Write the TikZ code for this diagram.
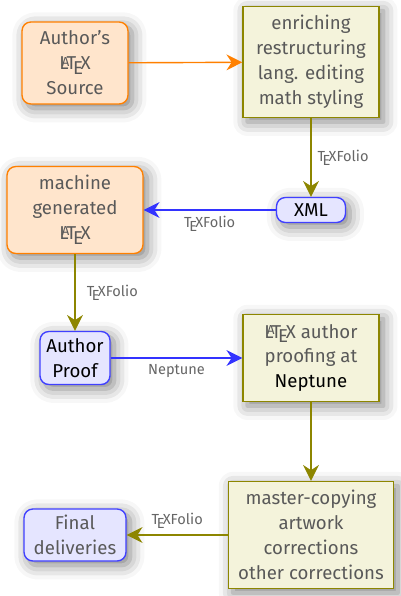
\documentclass[tikz,border=0pt]{standalone}
\usepackage{fontspec}
\setmainfont{Fira Sans}
\usetikzlibrary{positioning}
\usetikzlibrary{arrows.meta}
\usetikzlibrary{shadows.blur}
\newcommand{\strongtxt}[1]{\textcolor{black}{#1}}
\tikzset{
    myshadow/.style = {blur shadow={shadow xshift=2.5pt, shadow yshift=-2.5pt, shadow blur radius=8pt, shadow opacity=50}},
    boxo/.style = {rounded corners=5pt, thick, draw=orange, fill=orange!20, align=center, text=black!65, myshadow, font=\fontsize{10.6}{14.2}\selectfont},
    boxb/.style = {rounded corners=5pt, thick, draw=blue!75, fill=blue!10, align=center, text=black!65, myshadow, font=\fontsize{10.6}{14.2}\selectfont},
    boxg/.style = {thick, draw=olive, fill=olive!10, align=center, text=black!65, myshadow, font=\fontsize{10.6}{14.2}\selectfont},
    edgeo/.style = {-{Stealth[length=9pt,width=9pt]},thick,orange},
    edgeb/.style = {-{Stealth[length=9pt,width=9pt]},thick,blue!80},
    edgeg/.style = {-{Stealth[length=9pt,width=9pt]},thick,olive},
    lbl/.style = {text=black!60, font=\fontsize{8.3}{10}\selectfont},
}
\begin{document}
\begin{tikzpicture}[x=0.02cm,y=-0.02cm]
\path[use as bounding box] (0,0) rectangle (401,596);
%
\node[boxo, minimum width=2.12cm, minimum height=1.64cm] at (75,63) (src) {Author's\\\LaTeX\\Source};
\node[boxg, minimum width=2.72cm, minimum height=2.22cm] at (311,62) (enr) {enriching\\restructuring\\lang. editing\\math styling};
\node[boxb, minimum width=1.38cm, minimum height=0.5cm, inner sep=1pt] at (311,210) (xml) {\strongtxt{XML}};
\node[boxo, minimum width=2.72cm, minimum height=1.74cm] at (75,210) (mach) {machine\\generated\\\LaTeX};
\node[boxb, minimum width=1.4cm, minimum height=1.06cm, inner sep=2pt] at (75,358) (proof) {\strongtxt{Author}\\\strongtxt{Proof}};
\node[boxg, minimum width=2.72cm, minimum height=1.74cm] at (311,358) (nept) {\LaTeX\ author\\proofing at\\\strongtxt{Neptune}};
\node[boxg, minimum width=3.3cm, minimum height=2.14cm, inner sep=2pt] at (311,535) (mast) {master-copying\\artwork\\corrections\\other corrections};
\node[boxb, minimum width=2.04cm, minimum height=1.04cm] at (75,535) (final) {Final\\deliveries};
%
\draw[edgeo] (src) -- (enr);
\draw[edgeg] (enr) -- node[lbl, right] {\TeX Folio} (xml);
\draw[edgeb] (xml) -- node[lbl, below] {\TeX Folio} (mach);
\draw[edgeg] (mach) -- node[lbl, right=3pt] {\TeX Folio} (proof);
\draw[edgeb] (proof) -- node[lbl, below] {Neptune} (nept);
\draw[edgeg] (nept) -- (mast);
\draw[edgeg] (mast) -- node[lbl, above] {\TeX Folio} (final);
\end{tikzpicture}
\end{document}
